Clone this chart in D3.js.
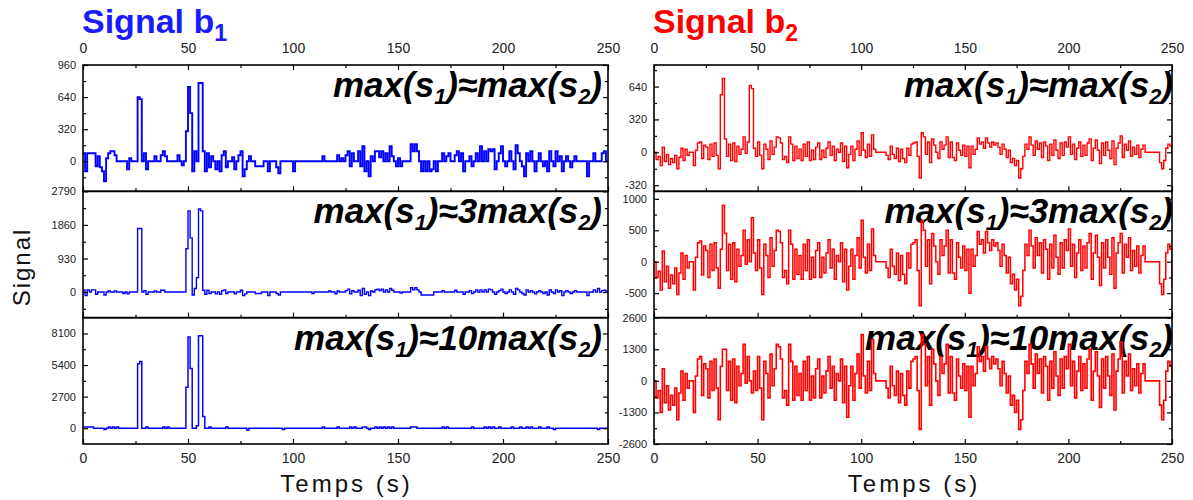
<!DOCTYPE html>
<html><head><meta charset="utf-8">
<script src="https://cdn.jsdelivr.net/npm/d3@7"></script>
<style>body{margin:0;background:#fff;} svg{display:block;}</style>
</head><body><svg id="c" width="1193" height="500"></svg>
<script>
// ---- time axis (seconds) ----
const seconds = d3.range(0, 251);
const xTickValues = [0, 50, 100, 150, 200, 250];
const xMinorValues = [25, 75, 125, 175, 225];

// ---- Signal b1 (blue) for the three cases ----
const signalB1_case1 = [
 80,-100,80,80,80,80,-50,50,-60,-100,
 -200,30,80,100,100,60,0,0,0,0,
 0,-80,30,0,0,0,640,620,0,80,
 -80,0,0,0,50,0,0,60,100,50,
 0,0,0,0,0,60,0,-40,0,300,
 740,480,-100,100,0,780,780,100,-100,80,
 -60,50,0,-80,0,-100,60,100,-60,0,
 0,40,-80,0,60,100,-150,-80,0,50,
 0,0,-50,-50,-50,-50,0,0,-100,0,
 0,0,-60,-120,0,0,0,0,0,0,
 -100,0,0,0,0,0,0,0,0,0,
 0,0,0,0,50,0,0,0,0,0,
 0,60,0,30,0,60,100,-50,80,0,
 0,100,-50,150,-100,0,-150,50,0,100,
 100,40,100,0,80,0,150,50,0,-50,
 30,-50,0,0,0,0,170,100,170,100,
 0,-100,0,-100,0,-100,-80,0,-100,0,
 0,80,0,50,80,0,0,60,100,0,
 80,-100,0,0,50,-50,0,80,0,150,
 0,100,0,120,100,120,-80,0,80,150,
 0,-50,0,100,0,-80,160,80,0,-50,
 -150,80,0,100,0,-100,0,80,0,-50,
 0,-100,100,0,-50,100,0,50,-100,0,
 50,0,-60,0,50,0,0,0,0,0,
 -150,0,0,80,0,0,0,80,100,0,
 0];
const signalB1_case3 = [
 60,-100,60,0,60,60,-60,0,0,0,
 -80,0,30,0,0,30,0,0,0,-40,
 0,-50,0,0,0,0,1760,1760,0,40,
 -60,0,0,0,30,0,0,50,50,0,
 0,0,0,0,0,0,0,0,0,1200,
 2250,1500,-80,100,400,2300,2250,50,-60,50,
 -40,0,0,-50,0,-60,40,60,-40,0,
 0,0,-50,0,0,50,-100,-50,0,0,
 0,0,-40,-40,-40,0,0,0,-100,0,
 0,0,-40,-80,0,0,0,0,0,0,
 0,0,0,0,0,0,0,0,0,-40,
 0,0,0,0,0,0,0,30,0,0,
 -50,30,0,0,0,40,80,-50,40,0,
 0,50,-100,100,-60,0,-100,30,0,60,
 80,40,80,0,60,0,100,50,0,0,
 0,-30,0,0,0,0,120,60,120,60,
 0,-80,-80,-80,-80,-80,-80,0,0,0,
 0,40,0,0,0,0,0,50,0,0,
 0,-60,0,0,40,-40,0,60,0,60,
 0,60,0,80,60,0,-60,0,40,80,
 0,-40,0,60,0,-60,100,60,0,-40,
 -80,60,0,40,0,-50,0,40,0,-40,
 0,-80,60,0,-40,60,0,40,-100,0,
 40,0,-40,0,40,0,0,0,0,0,
 -100,0,0,60,0,100,0,40,50,0,
 0];
const signalB1_case10 = [
 100,100,100,100,100,0,0,0,0,0,
 -100,0,100,0,100,0,100,0,0,0,
 0,0,0,0,0,0,5500,5700,0,0,
 100,0,0,0,0,0,0,0,100,0,
 100,0,0,0,0,0,0,0,0,3500,
 7800,5100,0,0,200,7900,7900,1000,0,0,
 100,0,0,0,0,0,0,0,100,0,
 0,0,0,0,0,0,0,0,-150,0,
 0,0,0,0,0,0,0,0,0,0,
 0,0,0,0,0,-100,0,0,0,0,
 0,0,0,0,0,0,0,0,0,0,
 0,0,0,0,100,0,0,0,0,0,
 0,100,0,0,0,0,0,100,0,100,
 0,0,0,100,100,0,-100,0,0,100,
 0,100,0,100,0,100,0,100,0,0,
 0,0,0,0,0,0,100,100,100,0,
 0,0,0,0,0,0,0,0,0,0,
 0,100,0,100,0,0,0,0,0,0,
 0,0,0,0,0,100,0,0,0,0,
 0,100,0,100,0,100,0,0,100,0,
 0,0,0,0,100,0,0,0,100,0,
 0,100,0,100,0,0,0,100,0,0,
 0,100,0,0,-100,0,0,0,0,0,
 0,0,0,0,0,0,0,0,0,0,
 0,0,0,0,0,-100,0,0,0,0,
 0];

// ---- Signal b2 (red) for the three cases ----
const signalB2_case1 = [
 0,-70,-40,-130,50,-90,-20,-120,-60,-100,
 -30,-160,-50,40,-80,30,-30,0,0,-130,
 20,90,100,-60,70,50,-70,80,-40,90,
 -30,-160,560,720,130,-40,80,-80,90,-90,
 60,-20,30,150,-10,100,650,620,40,-40,
 100,-30,-160,80,30,-70,110,-20,50,150,
 140,90,-70,-40,-100,150,80,-80,60,-60,
 30,-80,80,-40,100,-80,20,-70,50,90,
 -70,20,-50,40,100,-30,60,-80,30,0,
 90,-90,60,-150,-20,60,-80,30,110,-30,
 190,20,-50,80,-40,170,30,0,0,0,
 0,0,-30,-70,60,-20,-60,40,-90,30,
 -60,-100,40,-30,80,90,100,-40,-250,190,
 150,-20,100,-100,130,70,0,-60,100,30,
 70,150,-50,100,-50,-80,90,20,-30,70,
 -40,60,-150,60,-20,30,140,80,100,40,
 140,90,50,100,70,90,50,-20,80,30,
 -50,20,-100,-60,-130,-80,-250,-160,-40,80,
 30,150,70,-30,110,30,90,-50,100,60,
 -80,80,-30,120,20,-60,90,-30,100,50,
 150,-20,80,-70,40,100,-40,70,-30,90,
 130,-80,40,120,20,-110,90,-30,100,20,
 -60,110,-120,40,90,160,-50,80,20,110,
 -40,50,-20,70,-50,30,70,0,0,0,
 0,0,0,0,-100,-160,-80,40,80,60,
 0];
const signalB2_case3 = [
 0,-250,-150,-450,170,-320,-70,-420,-210,-350,
 -100,-520,-180,140,-280,100,-100,0,0,-450,
 70,300,330,-210,250,180,-250,280,-140,300,
 -100,-420,200,900,450,-140,280,-280,300,-320,
 200,-70,100,500,-40,350,0,700,140,-140,
 350,-100,-520,280,100,-250,380,-70,180,500,
 480,300,-250,-140,-350,500,280,-280,200,-200,
 100,-280,280,-140,350,-280,70,-250,180,300,
 -250,70,-180,140,350,-100,200,-280,100,0,
 300,-320,200,-450,-70,200,-280,100,380,-100,
 660,70,-180,280,-140,520,100,0,0,0,
 0,0,-100,-250,200,-70,-200,140,-300,100,
 -200,-350,140,-100,280,300,350,-140,-700,650,
 500,-70,350,-350,450,250,0,-200,350,100,
 250,500,-180,350,-180,-280,300,70,-100,250,
 -140,200,-500,200,-70,100,480,280,350,140,
 480,300,180,350,250,300,180,-70,280,100,
 -180,70,-350,-200,-450,-280,-700,-550,-140,280,
 100,500,250,-100,380,100,300,-180,350,200,
 -280,280,-100,420,70,-200,300,-100,350,180,
 520,-70,280,-250,140,350,-140,250,-100,300,
 450,-280,140,420,70,-380,300,-100,350,70,
 -200,380,-420,140,300,450,-180,280,70,380,
 -140,180,-70,250,-180,100,250,0,0,0,
 0,0,0,0,-350,-520,-280,140,280,200,
 -400];
const signalB2_case10 = [
 0,-700,-400,-1300,500,-900,-200,-1200,-600,-1000,
 -300,-1600,-500,400,-800,300,-300,0,0,-1300,
 200,900,1000,-600,700,500,-700,800,-400,900,
 -300,-1600,600,1300,1300,-400,800,-800,900,-900,
 600,-200,300,1500,-100,1000,0,-500,400,-400,
 1000,-300,-1600,800,300,-700,1100,-200,500,1500,
 1400,900,-700,-400,-1000,1500,800,-800,600,-600,
 300,-800,800,-400,1000,-800,200,-700,500,900,
 -700,200,-500,400,1000,-300,600,-800,300,0,
 900,-900,600,-1500,-200,600,-800,300,1100,-300,
 1900,200,-500,800,-400,1700,300,0,0,0,
 0,0,-300,-700,600,-200,-600,400,-900,300,
 -600,-1000,400,-300,800,900,1000,-400,-2000,1900,
 1500,-200,1000,-1000,1300,700,0,-600,1000,300,
 700,1500,-500,1000,-500,-800,900,200,-300,700,
 -400,600,-1500,600,-200,300,1400,800,1000,400,
 1400,900,500,1000,700,900,500,-200,800,300,
 -500,200,-1000,-600,-1300,-800,-2000,-1600,-400,800,
 300,1500,700,-300,1100,300,900,-500,1000,600,
 -800,800,-300,1200,200,-600,900,-300,1000,500,
 1500,-200,800,-700,400,1000,-400,700,-300,900,
 1300,-800,400,1200,200,-1100,900,-300,1000,200,
 -600,1100,-1200,400,900,1600,-500,800,200,1100,
 -400,500,-200,700,-500,300,700,0,0,0,
 0,0,0,0,-1000,-1600,-800,400,800,600,
 -1300];

// ---- y ticks / domains ----
const yTicksB1 = [[0,320,640,960],[0,930,1860,2790],[0,2700,5400,8100]];
const yMinorB1 = [[-160,160,480,800],[-465,465,1395,2325],[1350,4050,6750]];
const yDomainB1 = [[-300,960],[-710,2790],[-1350,9450]];
const yTicksB2 = [[-320,0,320,640],[-500,0,500,1000],[-2600,-1300,0,1300,2600]];
const yMinorB2 = [[-160,160,480,800],[-750,-250,250,750],[-1950,-650,650,1950]];
const yDomainB2 = [[-380,850],[-890,1120],[-2600,2600]];
const caseFactors = ['', '3', '10'];

// ---- drawing ----
const FONT = "'Liberation Sans', Arial, sans-serif";
const svg = d3.select('#c');
const rowTop = 65, rowBottom = 444, rowH = (rowBottom - rowTop) / 3;

const columns = [
  {x0: 83, x1: 608, color: '#0000ff', headColor: '#1a1aff', sub: '1',
   series: [signalB1_case1, signalB1_case3, signalB1_case10],
   widths: [1.9, 1.4, 1.5],
   ticks: yTicksB1, minor: yMinorB1, domain: yDomainB1, titleEnd: 602},
  {x0: 654, x1: 1172, color: '#ff0000', headColor: '#ff0000', sub: '2',
   series: [signalB2_case1, signalB2_case3, signalB2_case10],
   widths: [1.4, 1.5, 1.6],
   ticks: yTicksB2, minor: yMinorB2, domain: yDomainB2, titleEnd: 1173}
];

function styleAxis(g, fs) {
  g.select('.domain').remove();
  g.selectAll('.tick line').attr('stroke', '#000').attr('stroke-width', 1.2);
  g.selectAll('.tick text').attr('font-family', FONT).attr('font-size', fs).attr('fill', '#222');
}

columns.forEach((col, ci) => {
  const x = d3.scaleLinear().domain([0, 250]).range([col.x0, col.x1]);

  // heading
  const h = svg.append('text').attr('x', col.x0 - 1).attr('y', 33)
    .attr('fill', col.headColor).attr('font-family', FONT)
    .attr('font-weight', 'bold').attr('font-size', 34);
  h.append('tspan').text('Signal b');
  h.append('tspan').attr('dy', 8).attr('font-size', 23).text(col.sub);

  for (let r = 0; r < 3; r++) {
    const top = rowTop + r * rowH, bot = top + rowH;
    const y = d3.scaleLinear().domain(col.domain[r]).range([bot, top]);
    const g = svg.append('g');
    const cid = 'clip' + ci + r;
    g.append('clipPath').attr('id', cid).append('rect')
      .attr('x', col.x0).attr('y', top).attr('width', col.x1 - col.x0).attr('height', rowH);

    // title
    const fs = 35;
    const t = g.append('text').attr('x', col.titleEnd).attr('y', top + 32)
      .attr('text-anchor', 'end').attr('font-family', FONT)
      .attr('font-weight', 'bold').attr('font-style', 'italic')
      .attr('font-size', fs).attr('fill', '#000');
    t.append('tspan').text('max(s');
    t.append('tspan').attr('dy', 7).attr('font-size', fs * 0.62).text('1');
    t.append('tspan').attr('dy', -7).text(')\u2248' + caseFactors[r] + 'max(s');
    t.append('tspan').attr('dy', 7).attr('font-size', fs * 0.62).text('2');
    t.append('tspan').attr('dy', -7).text(')');

    // line
    const line = d3.line()
      .x((d, i) => x(seconds[i]))
      .y(d => y(d))
      .curve(d3.curveStepAfter);
    g.append('path').datum(col.series[r])
      .attr('clip-path', 'url(#' + cid + ')')
      .attr('fill', 'none').attr('stroke', col.color)
      .attr('stroke-width', col.widths[r]).attr('d', line);

    // left axis (labels + inward ticks)
    g.append('g').attr('transform', `translate(${col.x0},0)`)
      .call(d3.axisLeft(y).tickValues(col.ticks[r]).tickSize(-5).tickPadding(7).tickFormat(d => String(d)))
      .call(a => styleAxis(a, 11));
    g.append('g').attr('transform', `translate(${col.x0},0)`)
      .call(d3.axisLeft(y).tickValues(col.minor[r]).tickSize(-3).tickFormat(''))
      .call(a => styleAxis(a, 11));
    // right axis ticks
    g.append('g').attr('transform', `translate(${col.x1},0)`)
      .call(d3.axisRight(y).tickValues(col.ticks[r]).tickSize(-5).tickFormat(''))
      .call(a => styleAxis(a, 11));
    g.append('g').attr('transform', `translate(${col.x1},0)`)
      .call(d3.axisRight(y).tickValues(col.minor[r]).tickSize(-3).tickFormat(''))
      .call(a => styleAxis(a, 11));
    // bottom ticks
    g.append('g').attr('transform', `translate(0,${bot})`)
      .call(d3.axisBottom(x).tickValues(xTickValues).tickSize(-5).tickPadding(9)
        .tickFormat(r === 2 ? (d => String(d)) : ''))
      .call(a => styleAxis(a, 14));
    g.append('g').attr('transform', `translate(0,${bot})`)
      .call(d3.axisBottom(x).tickValues(xMinorValues).tickSize(-3).tickFormat(''))
      .call(a => styleAxis(a, 14));
    if (r === 0) {
      g.append('g').attr('transform', `translate(0,${top})`)
        .call(d3.axisTop(x).tickValues(xTickValues).tickSize(-5).tickPadding(12).tickFormat(d => String(d)))
        .call(a => styleAxis(a, 14));
      g.append('g').attr('transform', `translate(0,${top})`)
        .call(d3.axisTop(x).tickValues(xMinorValues).tickSize(-3).tickFormat(''))
        .call(a => styleAxis(a, 14));
    }
    // frame
    g.append('rect').attr('x', col.x0).attr('y', top)
      .attr('width', col.x1 - col.x0).attr('height', rowH)
      .attr('fill', 'none').attr('stroke', '#000').attr('stroke-width', 1.6);
  }

  // x axis title
  svg.append('text').attr('x', (col.x0 + col.x1) / 2 + 1).attr('y', 492)
    .attr('text-anchor', 'middle').attr('font-family', FONT).attr('font-size', 24)
    .attr('letter-spacing', 3).attr('fill', '#111').text('Temps (s)');
});

// y axis title
svg.append('text').attr('transform', 'translate(30,267) rotate(-90)')
  .attr('text-anchor', 'middle').attr('font-family', FONT).attr('font-size', 24)
  .attr('letter-spacing', 2).attr('fill', '#111').text('Signal');
</script>
</body></html>
